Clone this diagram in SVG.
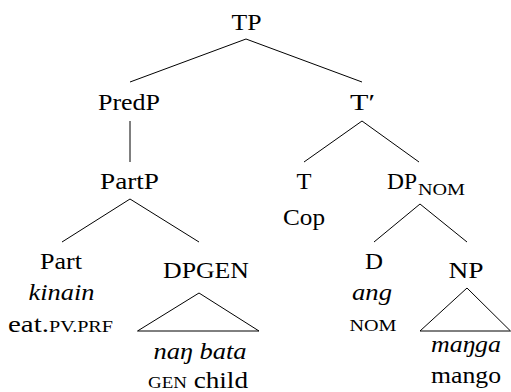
<svg xmlns="http://www.w3.org/2000/svg" width="511" height="392" viewBox="0 0 511 392">
<style>
  text { font-size: 23px; fill: #000; }
  .c { text-anchor: middle; }
  .i { font-style: italic; }
  .sc { font-size: 16px; }
  .sub { font-size: 17px; }
  line, polygon { stroke: #000; stroke-width: 1; fill: none; }
</style>
<rect width="511" height="392" fill="#fff"/>
<g id="connectors">
  <line x1="246" y1="39" x2="130" y2="82"/>
  <line x1="246" y1="39" x2="362" y2="82"/>
  <line x1="130" y1="121" x2="130" y2="162"/>
  <line x1="362" y1="121" x2="304" y2="162"/>
  <line x1="362" y1="121" x2="419" y2="162"/>
  <line x1="130" y1="199" x2="62" y2="242"/>
  <line x1="130" y1="199" x2="199" y2="242"/>
  <line x1="420" y1="204" x2="374" y2="242"/>
  <line x1="420" y1="204" x2="467" y2="242"/>
</g>
<g font-family="'Liberation Serif', serif">
<g id="TP"><text class="c" x="246.5" y="29.5" textLength="30" lengthAdjust="spacingAndGlyphs">TP</text></g>
<g id="PredP"><text class="c" x="129" y="110" textLength="62" lengthAdjust="spacingAndGlyphs">PredP</text></g>
<g id="Tbar"><text class="c" x="362.5" y="110" textLength="25" lengthAdjust="spacingAndGlyphs">T′</text></g>
<g id="PartP"><text class="c" x="129.5" y="189" textLength="59" lengthAdjust="spacingAndGlyphs">PartP</text></g>
<g id="T">
  <text class="c" x="304" y="189" textLength="15" lengthAdjust="spacingAndGlyphs">T</text>
  <text class="c" x="304" y="225" textLength="42" lengthAdjust="spacingAndGlyphs">Cop</text>
</g>
<g id="DPNOM">
  <text x="387" y="188.5" textLength="30" lengthAdjust="spacingAndGlyphs">DP</text>
  <text class="sub" x="418" y="195" textLength="47" lengthAdjust="spacingAndGlyphs">NOM</text>
</g>
<g id="Part">
  <text class="c" x="61" y="269" textLength="42" lengthAdjust="spacingAndGlyphs">Part</text>
  <text class="c i" x="61.5" y="300" textLength="66" lengthAdjust="spacingAndGlyphs">kinain</text>
  <text x="8" y="331.5" textLength="105" lengthAdjust="spacingAndGlyphs">eat.<tspan class="sc">PV.PRF</tspan></text>
</g>
<g id="DPGEN">
  <text class="c" x="206" y="278" textLength="86" lengthAdjust="spacingAndGlyphs">DPGEN</text>
  <polygon points="199,293 137.5,331 259,331"/>
  <text class="c i" x="200" y="359" textLength="93" lengthAdjust="spacingAndGlyphs">naŋ bata</text>
  <text x="148" y="388" textLength="100" lengthAdjust="spacingAndGlyphs"><tspan class="sc">GEN</tspan> child</text>
</g>
<g id="D">
  <text class="c" x="374" y="269" textLength="18" lengthAdjust="spacingAndGlyphs">D</text>
  <text class="c i" x="372" y="300" textLength="40" lengthAdjust="spacingAndGlyphs">ang</text>
  <text class="c sc" x="373" y="330.5" textLength="47" lengthAdjust="spacingAndGlyphs">NOM</text>
</g>
<g id="NP">
  <text class="c" x="466" y="278" textLength="35" lengthAdjust="spacingAndGlyphs">NP</text>
  <polygon points="467,288 420,331 510.5,331"/>
  <text class="c i" x="466" y="352" textLength="70" lengthAdjust="spacingAndGlyphs">maŋga</text>
  <text class="c" x="466" y="383" textLength="70" lengthAdjust="spacingAndGlyphs">mango</text>
</g>
</g>
</svg>
